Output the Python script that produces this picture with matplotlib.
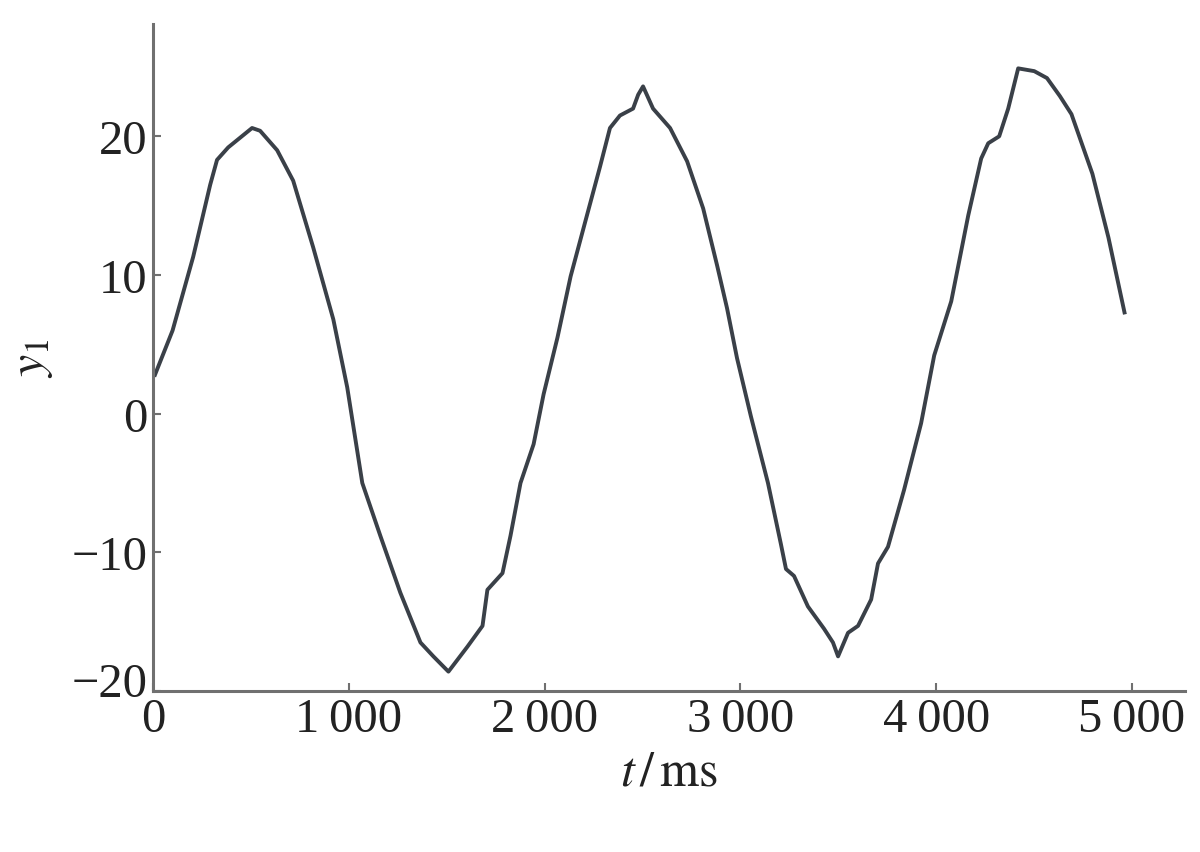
import matplotlib
matplotlib.use('Agg')
import matplotlib.pyplot as plt
import matplotlib.transforms as mtransforms

# signal y1 over time (ms)
t = [10, 100, 205, 292, 327, 384, 506, 547, 634, 716,
     818, 921, 992, 1069, 1161, 1263, 1366, 1432, 1509, 1606,
     1683, 1708, 1785, 1826, 1877, 1944, 1995, 2066, 2133, 2205,
     2283, 2334, 2385, 2452, 2478, 2503, 2554, 2641, 2728, 2810,
     2881, 2932, 2983, 3054, 3141, 3207, 3233, 3274, 3345, 3427,
     3473, 3499, 3550, 3601, 3668, 3703, 3754, 3836, 3923, 3990,
     4077, 4164, 4230, 4266, 4322, 4368, 4419, 4501, 4566, 4632,
     4691, 4798, 4880, 4962]
y1 = [2.8, 6.0, 11.3, 16.5, 18.3, 19.2, 20.6, 20.4, 19.0, 16.8,
      12.0, 6.8, 1.9, -5.0, -8.8, -12.9, -16.5, -17.5, -18.6, -16.8,
      -15.3, -12.7, -11.5, -8.8, -5.0, -2.2, 1.4, 5.5, 9.9, 13.7,
      17.8, 20.6, 21.5, 22.0, 23.0, 23.6, 22.0, 20.6, 18.2, 14.8,
      10.7, 7.6, 4.0, -0.2, -5.0, -9.4, -11.2, -11.7, -13.9, -15.5,
      -16.5, -17.5, -15.8, -15.3, -13.4, -10.8, -9.6, -5.5, -0.7, 4.2,
      8.1, 14.3, 18.4, 19.5, 20.0, 22.0, 24.9, 24.7, 24.2, 22.9,
      21.6, 17.3, 12.7, 7.3]

xticks = [0, 1000, 2000, 3000, 4000, 5000]
xticklabels = ['0', '1\u2009000', '2\u2009000', '3\u2009000', '4\u2009000', '5\u2009000']
yticks = [-20, -10, 0, 10, 20]
yticklabels = ['\u221220', '\u221210', '0', '10', '20']

plt.rcParams['font.family'] = ['Liberation Serif', 'DejaVu Serif']
plt.rcParams['mathtext.fontset'] = 'stix'

fig = plt.figure(figsize=(12, 8.53), dpi=100)
ax = fig.add_axes([0.1275, 0.1887, 0.86, 0.782])

ax.plot(t, y1, color='#3a4048', linewidth=2.8, solid_joinstyle='round')

ax.set_xlim(0, 5271)
ax.set_ylim(-20, 28.1)
ax.set_xticks(xticks)
ax.set_xticklabels(xticklabels)
ax.set_yticks(yticks)
ax.set_yticklabels(yticklabels)

for s in ['top', 'right']:
    ax.spines[s].set_visible(False)
for s in ['left', 'bottom']:
    ax.spines[s].set_color('#707070')
    ax.spines[s].set_linewidth(2.2)

ax.tick_params(direction='in', length=6, width=1.5, color='#707070',
               labelsize=35, labelcolor='#222222', pad=4)

# lift the -20 label a little so it clears the 0 below the corner
lab = ax.get_yticklabels()[0]
lab.set_transform(lab.get_transform() + mtransforms.ScaledTranslation(0, 12 / 100, fig.dpi_scale_trans))

ax.set_xlabel(r'$t\,/\,\mathrm{ms}$', fontsize=36, color='#222222', labelpad=6)
ax.set_ylabel(r'$y_1$', fontsize=36, color='#222222', labelpad=12)

fig.savefig('out.png', dpi=100, facecolor='white')
